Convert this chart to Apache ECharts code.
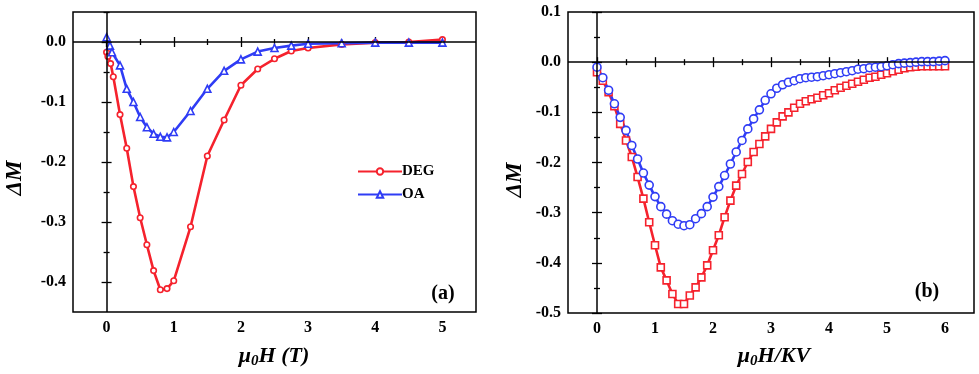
<!DOCTYPE html>
<html>
<head>
<meta charset="utf-8">
<script src="https://cdn.jsdelivr.net/npm/echarts@6/dist/echarts.min.js"></script>
<style>html,body{margin:0;padding:0;background:#fff}#c{width:979px;height:374px}</style>
</head>
<body>
<div id="c"></div>
<script>
// ---------- Panel (a) data ----------
const aDegField = [0, 0.02, 0.06, 0.1, 0.2, 0.3, 0.4, 0.5, 0.6, 0.7, 0.8, 0.9, 1.0, 1.25, 1.5, 1.75, 2.0, 2.25, 2.5, 2.75, 3.0, 3.5, 4.0, 4.5, 5.0];
const aDeg = [-0.017, -0.024, -0.036, -0.058, -0.121, -0.177, -0.241, -0.293, -0.338, -0.381, -0.413, -0.411, -0.398, -0.308, -0.190, -0.130, -0.072, -0.045, -0.028, -0.015, -0.010, -0.004, -0.001, 0.000, 0.004];
const aOaField = [0, 0.05, 0.08, 0.2, 0.3, 0.4, 0.5, 0.6, 0.7, 0.8, 0.9, 1.0, 1.25, 1.5, 1.75, 2.0, 2.25, 2.5, 2.75, 3.0, 3.5, 4.0, 4.5, 5.0];
const aOa = [0.008, -0.006, -0.017, -0.039, -0.078, -0.100, -0.125, -0.142, -0.153, -0.158, -0.159, -0.150, -0.115, -0.078, -0.048, -0.029, -0.016, -0.010, -0.006, -0.003, -0.002, -0.001, -0.001, -0.001];

// ---------- Panel (b) data ----------
const bField = [0, 0.1, 0.2, 0.3, 0.4, 0.5, 0.6, 0.7, 0.8, 0.9, 1.0, 1.1, 1.2, 1.3, 1.4, 1.5, 1.6, 1.7, 1.8, 1.9, 2.0, 2.1, 2.2, 2.3, 2.4, 2.5, 2.6, 2.7, 2.8, 2.9, 3.0, 3.1, 3.2, 3.3, 3.4, 3.5, 3.6, 3.7, 3.8, 3.9, 4.0, 4.1, 4.2, 4.3, 4.4, 4.5, 4.6, 4.7, 4.8, 4.9, 5.0, 5.1, 5.2, 5.3, 5.4, 5.5, 5.6, 5.7, 5.8, 5.9, 6.0];
const bDeg = [-0.020, -0.037, -0.060, -0.088, -0.123, -0.156, -0.189, -0.229, -0.272, -0.319, -0.365, -0.409, -0.435, -0.462, -0.482, -0.482, -0.465, -0.449, -0.429, -0.405, -0.375, -0.345, -0.309, -0.276, -0.246, -0.223, -0.199, -0.179, -0.163, -0.148, -0.133, -0.120, -0.108, -0.100, -0.091, -0.083, -0.078, -0.074, -0.071, -0.066, -0.062, -0.056, -0.051, -0.047, -0.043, -0.039, -0.035, -0.031, -0.029, -0.025, -0.022, -0.018, -0.015, -0.012, -0.010, -0.009, -0.008, -0.008, -0.008, -0.008, -0.008];
const bOa = [-0.010, -0.031, -0.056, -0.083, -0.110, -0.136, -0.166, -0.193, -0.221, -0.245, -0.268, -0.288, -0.303, -0.316, -0.323, -0.326, -0.324, -0.312, -0.302, -0.288, -0.269, -0.248, -0.226, -0.203, -0.179, -0.156, -0.133, -0.113, -0.095, -0.076, -0.063, -0.052, -0.045, -0.040, -0.037, -0.033, -0.031, -0.030, -0.029, -0.027, -0.025, -0.023, -0.021, -0.019, -0.017, -0.014, -0.013, -0.011, -0.010, -0.009, -0.007, -0.005, -0.003, -0.002, -0.001, 0.000, 0.001, 0.001, 0.001, 0.002, 0.003];

// ---------- Tick labels ----------
const aXMajor = [0, 1, 2, 3, 4, 5];
const aXMinor = [0.5, 1.5, 2.5, 3.5, 4.5];
const aYMajor = [-0.4, -0.3, -0.2, -0.1, 0.0];
const aYMinor = [-0.35, -0.25, -0.15, -0.05, 0.05];
const bXMajor = [0, 1, 2, 3, 4, 5, 6];
const bXMinor = [0.5, 1.5, 2.5, 3.5, 4.5, 5.5];
const bYMajor = [-0.5, -0.4, -0.3, -0.2, -0.1, 0.0, 0.1];
const bYMinor = [-0.45, -0.35, -0.25, -0.15, -0.05, 0.05];

const RED = '#f5222d';
const BLUE = '#2f3cf5';
const FONT = '"Liberation Serif", "Times New Roman", serif';
const labelStyle = {color: '#000', fontFamily: FONT, fontWeight: 'bold', fontSize: 16};

function xAxes(grid, min, max, major, minor) {
  const base = {type: 'value', gridIndex: grid, min: min, max: max, splitLine: {show: false}, axisLine: {show: false}};
  return [
    Object.assign({}, base, {position: 'bottom', axisTick: {inside: true, length: 5, customValues: major, lineStyle: {color: '#000', width: 1.3}},
      axisLabel: Object.assign({customValues: major, margin: 8, formatter: v => String(Math.round(v))}, labelStyle)}),
    Object.assign({}, base, {position: 'bottom', axisTick: {inside: true, length: 3, customValues: minor, lineStyle: {color: '#000', width: 1.3}}, axisLabel: {show: false}}),
    Object.assign({}, base, {position: 'top', axisTick: {inside: true, length: 5, customValues: major, lineStyle: {color: '#000', width: 1.3}}, axisLabel: {show: false}}),
    Object.assign({}, base, {position: 'top', axisTick: {inside: true, length: 3, customValues: minor, lineStyle: {color: '#000', width: 1.3}}, axisLabel: {show: false}})
  ];
}
function yAxes(grid, min, max, major, minor) {
  const base = {type: 'value', gridIndex: grid, min: min, max: max, splitLine: {show: false}, axisLine: {show: false}};
  return [
    Object.assign({}, base, {position: 'left', axisTick: {inside: true, length: 5, customValues: major, lineStyle: {color: '#000', width: 1.3}},
      axisLabel: Object.assign({customValues: major, margin: 7, formatter: v => v.toFixed(1)}, labelStyle)}),
    Object.assign({}, base, {position: 'left', axisTick: {inside: true, length: 3, customValues: minor, lineStyle: {color: '#000', width: 1.3}}, axisLabel: {show: false}}),
    Object.assign({}, base, {position: 'right', axisTick: {inside: true, length: 5, customValues: major, lineStyle: {color: '#000', width: 1.3}}, axisLabel: {show: false}}),
    Object.assign({}, base, {position: 'right', axisTick: {inside: true, length: 3, customValues: minor, lineStyle: {color: '#000', width: 1.3}}, axisLabel: {show: false}})
  ];
}

const zeroLines = {
  silent: true, symbol: ['none', 'none'], label: {show: false}, animation: false,
  lineStyle: {color: '#000', width: 1.5, type: 'solid'},
  emphasis: {disabled: true},
  data: [{yAxis: 0}, {xAxis: 0}]
};

function lineSeries(name, xs, ys, color, symbol, size, xi, yi, withZero) {
  const s = {
    name: name, type: 'line', xAxisIndex: xi, yAxisIndex: yi,
    data: xs.map((x, i) => [x, ys[i]]),
    symbol: symbol, symbolSize: size, showAllSymbol: true,
    lineStyle: {color: color, width: 2.6},
    itemStyle: {color: '#fff', borderColor: color, borderWidth: 1.6},
    animation: false, z: 3
  };
  if (withZero) s.markLine = zeroLines;
  return s;
}

const chart = echarts.init(document.getElementById('c'));
chart.setOption({
  backgroundColor: '#fff',
  grid: [
    {left: 73, top: 12, width: 403, height: 300, show: true, borderColor: '#000', borderWidth: 1.5, backgroundColor: 'transparent'},
    {left: 568, top: 12, width: 406, height: 301, show: true, borderColor: '#000', borderWidth: 1.5, backgroundColor: 'transparent'}
  ],
  xAxis: [].concat(xAxes(0, -0.5, 5.5, aXMajor, aXMinor), xAxes(1, -0.5, 6.5, bXMajor, bXMinor)),
  yAxis: [].concat(yAxes(0, -0.45, 0.05, aYMajor, aYMinor), yAxes(1, -0.5, 0.1, bYMajor, bYMinor)),
  legend: {
    data: ['DEG', 'OA'], orient: 'vertical', left: 352, top: 159,
    itemWidth: 44, itemHeight: 8, itemGap: 8,
    textStyle: {color: '#000', fontFamily: FONT, fontWeight: 'bold', fontSize: 15, padding: [0, 0, 0, -5]},
    selectedMode: false
  },
  series: [
    lineSeries('DEG', aDegField, aDeg, RED, 'circle', 5.5, 0, 0, true),
    lineSeries('OA', aOaField, aOa, BLUE, 'triangle', 7, 0, 0, false),
    lineSeries('DEG b', bField, bDeg, RED, 'rect', 7, 4, 4, true),
    lineSeries('OA b', bField, bOa, BLUE, 'circle', 8, 4, 4, false)
  ],
  graphic: [
    {type: 'text', x: 15, y: 178, rotation: Math.PI / 2, style: {text: 'ΔM', fill: '#000', font: 'italic bold 23px ' + FONT, textAlign: 'center', textVerticalAlign: 'middle'}},
    {type: 'text', x: 515, y: 180, rotation: Math.PI / 2, style: {text: 'ΔM', fill: '#000', font: 'italic bold 23px ' + FONT, textAlign: 'center', textVerticalAlign: 'middle'}},
    {type: 'text', x: 274, y: 356, style: {text: '{a|μ}{s|0}{a|H (T)}', textAlign: 'center', textVerticalAlign: 'middle',
      rich: {a: {fontFamily: FONT, fontStyle: 'italic', fontWeight: 'bold', fontSize: 22, lineHeight: 26, fill: '#000'},
             s: {fontFamily: FONT, fontStyle: 'italic', fontWeight: 'bold', fontSize: 15, lineHeight: 14, verticalAlign: 'bottom', fill: '#000'}}}},
    {type: 'text', x: 774, y: 356, style: {text: '{a|μ}{s|0}{a|H/KV}', textAlign: 'center', textVerticalAlign: 'middle',
      rich: {a: {fontFamily: FONT, fontStyle: 'italic', fontWeight: 'bold', fontSize: 22, lineHeight: 26, fill: '#000'},
             s: {fontFamily: FONT, fontStyle: 'italic', fontWeight: 'bold', fontSize: 15, lineHeight: 14, verticalAlign: 'bottom', fill: '#000'}}}},
    {type: 'text', x: 443, y: 294, style: {text: '(a)', fill: '#000', font: 'bold 20px ' + FONT, textAlign: 'center', textVerticalAlign: 'middle'}},
    {type: 'text', x: 927, y: 292, style: {text: '(b)', fill: '#000', font: 'bold 20px ' + FONT, textAlign: 'center', textVerticalAlign: 'middle'}}
  ]
});
</script>
</body>
</html>
